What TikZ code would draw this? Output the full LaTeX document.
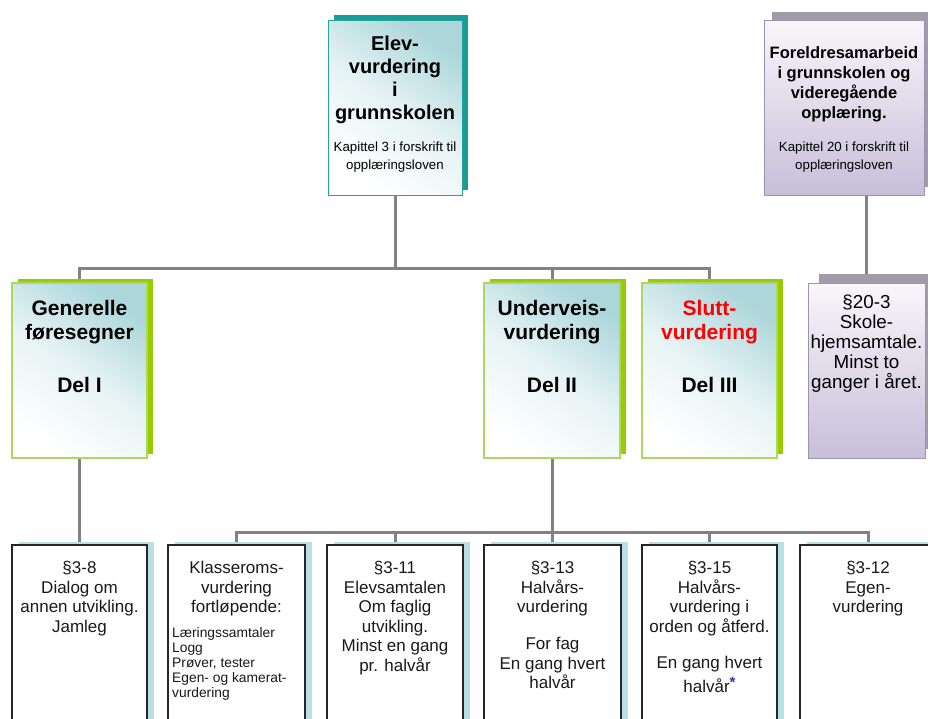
\documentclass[tikz,border=0pt]{standalone}
\usepackage{fontspec}
\setmainfont{Liberation Sans}
\usetikzlibrary{shadows,backgrounds}
\definecolor{connc}{RGB}{130,130,130}
\definecolor{tealshadow}{RGB}{22,158,150}
\definecolor{tealborder}{RGB}{40,162,156}
\definecolor{tealfill}{RGB}{172,214,218}
\definecolor{greenshadow}{RGB}{153,204,0}
\definecolor{greenborder}{RGB}{172,216,92}
\definecolor{lavfill}{RGB}{200,190,218}
\definecolor{lavtop}{RGB}{248,246,250}
\definecolor{lavborder}{RGB}{158,146,178}
\definecolor{grayshadow}{RGB}{160,156,168}
\definecolor{blueshadow}{RGB}{184,224,228}
\definecolor{starblue}{RGB}{50,50,170}
\definecolor{redtxt}{RGB}{255,0,0}
\tikzset{
  conn/.style={draw=connc, line width=3pt},
  tealgrad/.style={top color=tealfill, bottom color=white, middle color=tealfill!30, shading angle=-35},
  tealbox/.style={draw=tealborder, line width=1pt, inner sep=0pt, tealgrad,
    general shadow={shadow xshift=6pt, shadow yshift=5pt, fill=tealshadow}},
  greenbox/.style={draw=greenborder, line width=1.2pt, inner sep=0pt,
    minimum width=135pt, minimum height=175pt, tealgrad,
    general shadow={shadow xshift=6pt, shadow yshift=4pt, fill=greenshadow}},
  lavbox/.style={draw=lavborder, line width=1pt, inner sep=0pt,
    top color=lavtop, bottom color=lavfill},
  whitebox/.style={draw=black!85, line width=1.2pt, fill=white, inner sep=0pt,
    minimum width=136pt, minimum height=215pt,
    general shadow={shadow xshift=7pt, shadow yshift=3pt, fill=blueshadow}},
  ttlA/.style={inner sep=0pt, align=center, anchor=north,
    font=\fontsize{20}{23}\selectfont\bfseries},
  ttlB/.style={inner sep=0pt, align=center, anchor=north,
    font=\fontsize{16.5}{20}\selectfont\bfseries},
  ttlC/.style={inner sep=0pt, align=center, anchor=north,
    font=\fontsize{21}{24}\selectfont\bfseries},
  subtxt/.style={inner sep=0pt, align=center, anchor=north,
    font=\fontsize{13.3}{18}\selectfont},
  ptxt/.style={inner sep=0pt, align=center, anchor=north,
    font=\fontsize{18.8}{20}\selectfont},
  ltxt/.style={inner sep=0pt, align=center, anchor=north, text=black!90,
    font=\fontsize{17}{19.5}\selectfont},
  listtxt/.style={inner sep=0pt, align=left, anchor=north west, text=black!90,
    font=\fontsize{13.8}{15}\selectfont},
}
\begin{document}
\begin{tikzpicture}[x=1pt,y=-1pt]
\useasboundingbox (0,0) rectangle (928,718);
\clip (0,0) rectangle (928,718);

% top level
\node[tealbox, minimum width=134pt, minimum height=175pt] (elev) at (395,107.5) {};
\node[ttlA] (elevT) at (395,35.6) {Elev-\\vurdering\\i\\grunnskolen};
\node[subtxt] (elevS) at (395,142) {Kapittel 3 i forskrift til\\opplæringsloven};

\node[lavbox, minimum width=160pt, minimum height=175pt,
  general shadow={shadow xshift=8pt, shadow yshift=8pt, fill=grayshadow}] (fore) at (844,107.5) {};
\node[ttlB] (foreT) at (844,46) {Foreldresamarbeid\\i grunnskolen og\\videregående\\opplæring.};
\node[subtxt] (foreS) at (844,142) {Kapittel 20 i forskrift til\\opplæringsloven};

% second level
\node[greenbox] (gen) at (79.5,370.5) {};
\node[ttlC] (genT) at (79.5,300.2) {Generelle\\føresegner};
\node[ttlC] (genD) at (79.5,377.2) {Del I};

\node[greenbox, minimum width=136pt] (und) at (552,370.5) {};
\node[ttlC] (undT) at (552,300.2) {Underveis-\\vurdering};
\node[ttlC] (undD) at (552,377.2) {Del II};

\node[greenbox] (slu) at (709.5,370.5) {};
\node[ttlC, text=redtxt] (sluT) at (709.5,300.2) {Slutt-\\vurdering};
\node[ttlC] (sluD) at (709.5,377.2) {Del III};

\node[lavbox, minimum width=117pt, minimum height=175pt,
  general shadow={shadow xshift=11pt, shadow yshift=9pt, fill=grayshadow}] (p203) at (866.5,370.5) {};
\node[ptxt] (p203T) at (866.5,295) {§20-3\\Skole-\\hjemsamtale.\\Minst to\\ganger i året.};

% third level
\node[whitebox, minimum width=135pt] (b1) at (79.5,652.5) {};
\node[ltxt] (b1T) at (79.5,561) {§3-8\\Dialog om\\annen utvikling.\\Jamleg};

\node[whitebox, minimum width=137pt] (b2) at (236.5,652.5) {};
\node[ltxt] (b2T) at (236.5,561) {Klasseroms-\\vurdering\\fortløpende:};
\node[listtxt] (b2L) at (172,627.5) {Læringssamtaler\\Logg\\Prøver, tester\\Egen- og kamerat-\\vurdering};

\node[whitebox] (b3) at (395,652.5) {};
\node[ltxt] (b3T) at (395,561) {§3-11\\Elevsamtalen\\Om faglig\\utvikling.\\Minst en gang\\pr. halvår};

\node[whitebox, minimum width=137pt] (b4) at (552.5,652.5) {};
\node[ltxt] (b4T) at (552.5,561) {§3-13\\Halvårs-\\vurdering};
\node[ltxt] (b4S) at (552.5,637) {For fag\\En gang hvert\\halvår};

\node[whitebox, minimum width=135pt] (b5) at (709.5,652.5) {};
\node[ltxt] (b5T) at (709.5,561) {§3-15\\Halvårs-\\vurdering i\\orden og åtferd.};
\node[ltxt] (b5S) at (709.5,656) {En gang hvert\\[4pt]halvår\textcolor{starblue}{\raisebox{5pt}{\fontsize{15}{15}\selectfont\bfseries *}}};

\node[whitebox] (b6) at (868,652.5) {};
\node[ltxt] (b6T) at (868,561) {§3-12\\Egen-\\vurdering};

% connectors
\coordinate (bus1) at (395,268);
\coordinate (bus2) at (552,532);
\begin{scope}[on background layer]
\draw[conn] (elev.south) -- (bus1);
\draw[conn] (bus1) -| (gen.north);
\draw[conn] (bus1) -| (und.north);
\draw[conn] (bus1) -| (slu.north);
\draw[conn] (p203.north) -- (p203.north |- fore.south);
\draw[conn] (gen.south) -- (b1.north);
\draw[conn] (und.south) -- (bus2);
\draw[conn] (bus2) -| (b2.north);
\draw[conn] (bus2) -| (b3.north);
\draw[conn] (bus2) -| (b4.north);
\draw[conn] (bus2) -| (b5.north);
\draw[conn] (bus2) -| (b6.north);
\end{scope}
\end{tikzpicture}
\end{document}
